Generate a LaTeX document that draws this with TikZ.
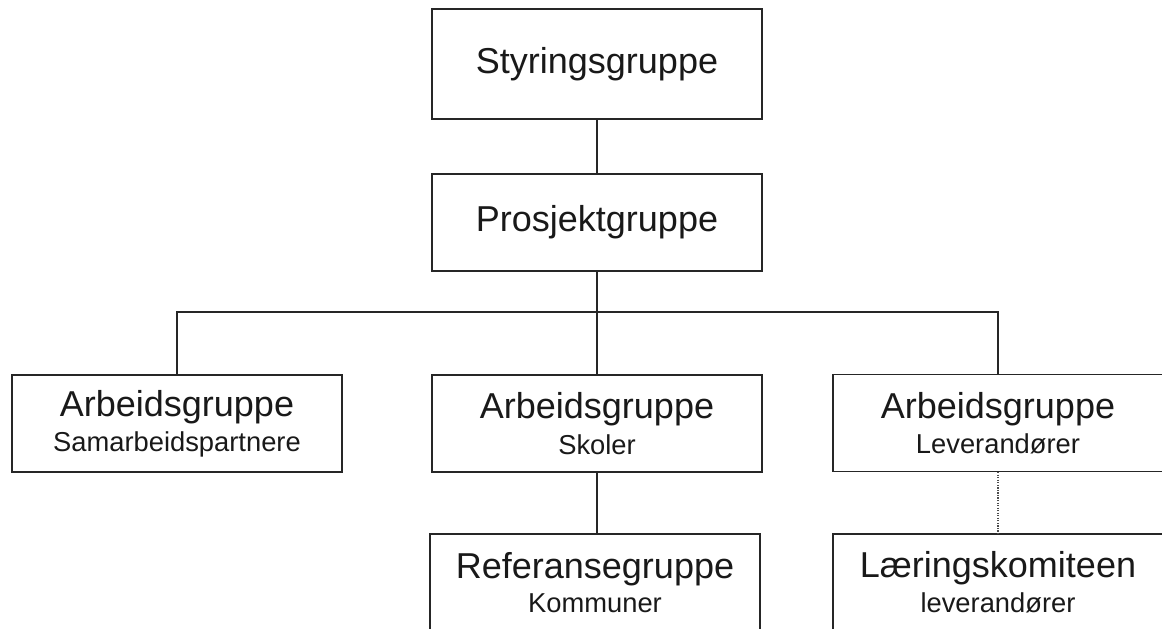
\documentclass[tikz,border=0pt]{standalone}
\usepackage{fontspec}
\setmainfont{Liberation Sans}
\usetikzlibrary{positioning}

\newcommand{\headtxt}[1]{{\fontsize{27}{30}\selectfont #1}}
\newcommand{\subtxt}[1]{{\fontsize{20.5}{24}\selectfont #1}}

\begin{document}
\begin{tikzpicture}[x=0.75pt, y=-0.75pt,
    box/.style={draw=black!85, line width=0.9pt, minimum width=247.5pt, minimum height=72.75pt,
                align=center, inner sep=0pt, text=black!90},
    link/.style={draw=black!85, line width=0.9pt}]
  % page frame
  \useasboundingbox (0,0) rectangle (1162,628);
  \clip (0,0) rectangle (1162,628);

  % Top levels
  \node[box, minimum height=82.5pt] (styring) at (597,64) {\headtxt{Styringsgruppe}};
  \node[box] (prosjekt) at (597,222.5) {\headtxt{Prosjektgruppe}};

  % Working groups
  \node[box] (samarb) at (177,423.5) {\headtxt{Arbeidsgruppe}\\[5pt]\subtxt{Samarbeidspartnere}};
  \node[box] (skoler) at (597,423.5) {\headtxt{Arbeidsgruppe}\\[5pt]\subtxt{Skoler}};
  \node[box] (lever) at (998,423) {\headtxt{Arbeidsgruppe}\\[5pt]\subtxt{Leverandører}};

  % Bottom row (cut by the page edge)
  \node[box] (referanse) at (595,582.5) {\headtxt{Referansegruppe}\\[5pt]\subtxt{Kommuner}};
  \node[box] (laering) at (998,582.5) {\headtxt{Læringskomiteen}\\[5pt]\subtxt{leverandører}};

  % Connectors
  \coordinate (bus) at (597,312);
  \draw[link] (styring) -- (prosjekt);
  \draw[link] (prosjekt) -- (skoler);
  \draw[link] (samarb.north) |- (bus) -| (lever.north);
  \draw[link] (skoler.south) -- (skoler.south |- referanse.north);
  \draw[link, draw=black!70, densely dotted] (lever) -- (laering);

\end{tikzpicture}
\end{document}
